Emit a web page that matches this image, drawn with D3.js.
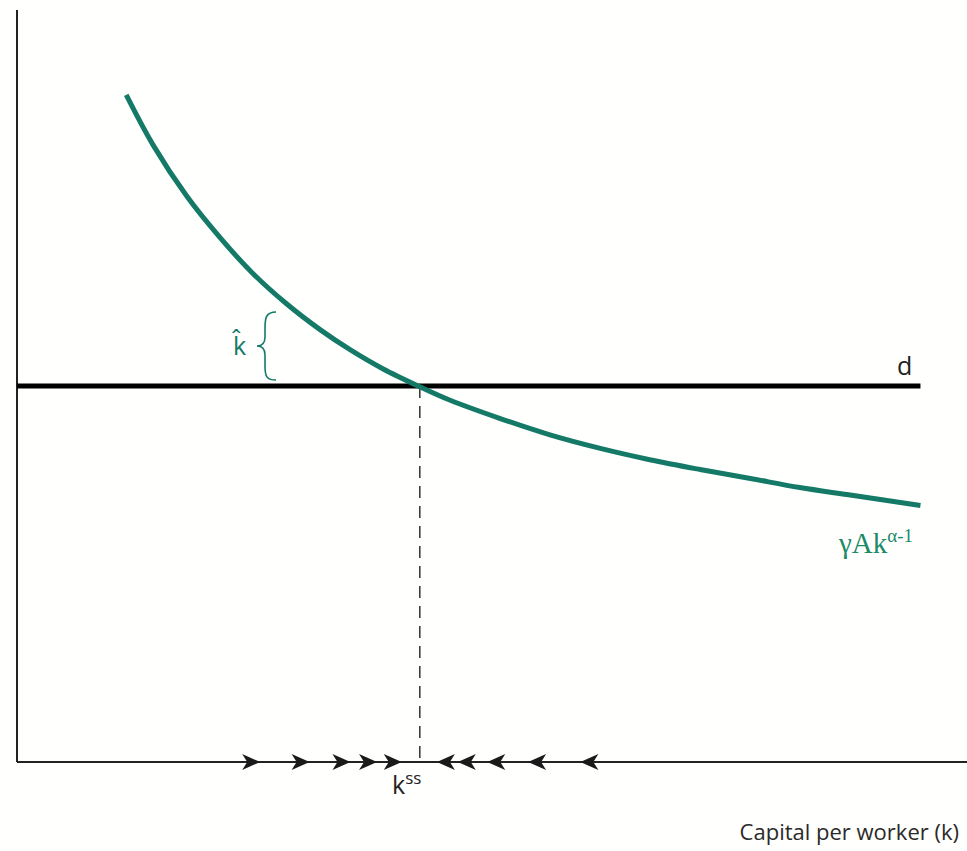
<!DOCTYPE html>
<html>
<head>
<meta charset="utf-8">
<script src="https://cdn.jsdelivr.net/npm/d3@7"></script>
<style>
  body { margin: 0; background: #fffffd; }
  svg { display: block; }
</style>
</head>
<body>
<svg width="967" height="851"></svg>
<script>
// courbe gamma*A*k^(alpha-1), points
const curveK = [1.15, 1.43, 1.79, 2.14, 2.48, 2.84, 3.19, 3.51, 3.85, 4.24, 4.56, 5.08, 5.61, 6.14, 6.66, 7.19, 7.72, 8.24, 8.77, 9.51];
const curveY = [8.87, 8.21, 7.52, 6.97, 6.50, 6.09, 5.75, 5.48, 5.23, 4.99, 4.81, 4.57, 4.35, 4.17, 4.02, 3.89, 3.77, 3.65, 3.55, 3.41];
const depreciation = 5.0;          // ligne d
const kSteady = 4.24;              // k^ss
const arrowsRight = [2.56, 3.08, 3.51, 3.79, 4.05];
const arrowsLeft = [4.42, 4.64, 4.95, 5.38, 5.93];

const svg = d3.select('svg');
const teal = '#147a67';

const x = d3.scaleLinear().domain([0, 10]).range([17, 967]);
const y = d3.scaleLinear().domain([0, 10]).range([762, 10]);

// axes
svg.append('line')
    .attr('x1', x(0)).attr('x2', x(0))
    .attr('y1', 10).attr('y2', y(0))
    .attr('stroke', '#222').attr('stroke-width', 2);
svg.append('line')
    .attr('x1', x(0)).attr('x2', x(10))
    .attr('y1', y(0)).attr('y2', y(0))
    .attr('stroke', '#222').attr('stroke-width', 2);

// pointillé vertical à k^ss
svg.append('line')
    .attr('x1', x(kSteady)).attr('x2', x(kSteady))
    .attr('y1', y(depreciation)).attr('y2', y(0))
    .attr('stroke', '#333').attr('stroke-width', 1.5)
    .attr('stroke-dasharray', '12,8');

// ligne d
svg.append('line')
    .attr('x1', x(0)).attr('x2', x(9.51))
    .attr('y1', y(depreciation)).attr('y2', y(depreciation))
    .attr('stroke', '#000').attr('stroke-width', 5);

// courbe
const pts = curveK.map((k, i) => [k, curveY[i]]);
svg.append('path')
    .datum(pts)
    .attr('fill', 'none')
    .attr('stroke', teal)
    .attr('stroke-width', 5)
    .attr('d', d3.line().x(d => x(d[0])).y(d => y(d[1])).curve(d3.curveCatmullRom));

// flèches sur l'axe
const arrowPath = 'M0,0 L-18,-8 L-13,0 L-18,8 Z';
svg.selectAll('.arR').data(arrowsRight).enter()
    .append('path')
    .attr('class', 'arR')
    .attr('d', arrowPath)
    .attr('fill', '#1a1a1a')
    .attr('transform', d => `translate(${x(d)},${y(0)})`);
svg.selectAll('.arL').data(arrowsLeft).enter()
    .append('path')
    .attr('class', 'arL')
    .attr('d', arrowPath)
    .attr('fill', '#1a1a1a')
    .attr('transform', d => `translate(${x(d)},${y(0)}) scale(-1,1)`);

// accolade k chapeau
svg.append('path')
    .attr('d', 'M276,312 C266,312 265,318 265,328 L265,337 C265,344 262,346 257,346 C262,346 265,349 265,355 L265,366 C265,377 267,380 276,380')
    .attr('fill', 'none').attr('stroke', teal).attr('stroke-width', 1.6);
svg.append('text')
    .attr('x', 233).attr('y', 355)
    .attr('font-family', 'Open Sans, sans-serif').attr('font-size', 25)
    .attr('fill', teal)
    .text('k\u0302');

// libellés
svg.append('text')
    .attr('x', 897).attr('y', 375)
    .attr('font-family', 'Open Sans, sans-serif').attr('font-size', 25)
    .attr('fill', '#222')
    .text('d');

const g = svg.append('text')
    .attr('x', 839).attr('y', 553)
    .attr('font-family', 'Liberation Serif, serif').attr('font-size', 29)
    .attr('fill', '#1a8a68');
g.append('tspan').text('\u03B3Ak');
g.append('tspan').attr('dy', -11).attr('font-size', 19).text('\u03B1-1');

const ks = svg.append('text')
    .attr('x', 392).attr('y', 794)
    .attr('font-family', 'Open Sans, sans-serif').attr('font-size', 25)
    .attr('fill', '#222');
ks.append('tspan').text('k');
ks.append('tspan').attr('dy', -10).attr('font-size', 17).text('ss');

svg.append('text')
    .attr('x', 959).attr('y', 840)
    .attr('text-anchor', 'end')
    .attr('font-family', 'Open Sans, sans-serif').attr('font-size', 22)
    .attr('fill', '#2a2a2a')
    .text('Capital per worker (k)');
</script>
</body>
</html>
